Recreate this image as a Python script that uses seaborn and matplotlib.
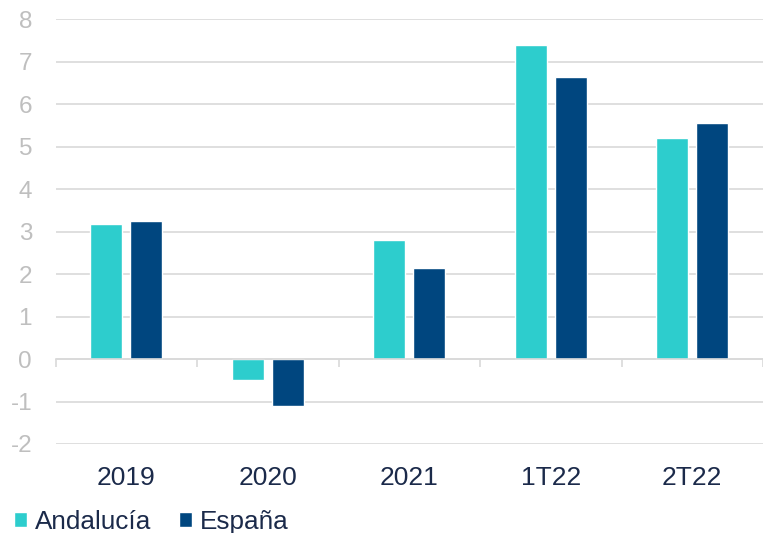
import pandas as pd
import seaborn as sns
import matplotlib.pyplot as plt
from matplotlib.ticker import FixedLocator, NullFormatter

# values
periods = ['2019', '2020', '2021', '1T22', '2T22']
andalucia = [3.18, -0.50, 2.80, 7.40, 5.21]
espana = [3.24, -1.11, 2.14, 6.64, 5.55]
series_names = ['Andalucía', 'España']
colors = ['#2DCDCD', '#00467F']

df = pd.DataFrame({
    'periodo': periods * 2,
    'valor': andalucia + espana,
    'serie': [series_names[0]] * len(periods) + [series_names[1]] * len(periods),
})

sns.set_style('white')
plt.rcParams['font.family'] = ['Liberation Sans', 'DejaVu Sans']
plt.rcParams['axes.unicode_minus'] = False

fig = plt.figure(figsize=(7.63, 5.33), dpi=100)
ax = fig.add_axes([0.073, 0.167, 0.927, 0.797])

sns.barplot(data=df, x='periodo', y='valor', hue='serie', order=periods,
            hue_order=series_names, palette=colors, width=0.565, gap=0.2,
            saturation=1, ax=ax)

ax.set_xlim(-0.5, 4.5)
ax.set_ylim(-2, 8)
ax.set_yticks(range(-2, 9))
ax.set_xlabel('')
ax.set_ylabel('')

# grid lines
grid_col = '#D9D9D9'
ax.yaxis.grid(True, color=grid_col, linewidth=1.2)
ax.set_axisbelow(True)
for s in ['top', 'right', 'left']:
    ax.spines[s].set_visible(False)

# zero axis with tick marks between categories
ax.spines['bottom'].set_position(('data', 0))
ax.spines['bottom'].set_color(grid_col)
ax.spines['bottom'].set_linewidth(1.2)
ax.xaxis.set_minor_locator(FixedLocator([i - 0.5 for i in range(len(periods) + 1)]))
ax.xaxis.set_major_formatter(NullFormatter())
ax.tick_params(axis='x', which='major', length=0)
ax.tick_params(axis='x', which='minor', length=6, width=1.2, color=grid_col,
               direction='out', bottom=True)
ax.tick_params(axis='y', length=0, labelsize=17.5, labelcolor='#BFBFBF', pad=17)

# category labels at the bottom of the plot
sec = ax.secondary_xaxis(location=0)
sec.set_xticks(range(len(periods)))
sec.set_xticklabels(periods)
sec.tick_params(length=0, labelsize=19, labelcolor='#1B2A4A', pad=16)
sec.spines['bottom'].set_visible(False)

handles, labels = ax.get_legend_handles_labels()
ax.get_legend().remove()
fig.legend(handles, labels, loc='lower left', bbox_to_anchor=(-0.012, -0.046),
           ncol=2, frameon=False, fontsize=18.8, handlelength=0.5,
           handleheight=0.5, handletextpad=0.3, columnspacing=1.05,
           labelcolor='#1B2A4A')

plt.savefig('out.png', dpi=100)
